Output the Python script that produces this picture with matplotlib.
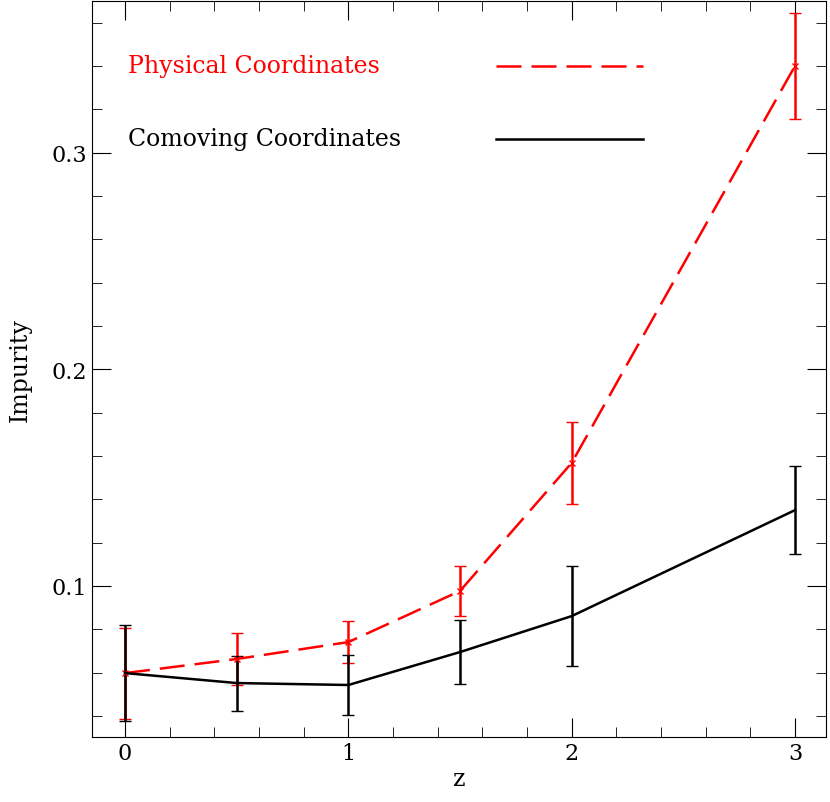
import matplotlib
matplotlib.use("Agg")
import matplotlib.pyplot as plt
from matplotlib.ticker import MultipleLocator

z = [0, 0.5, 1, 1.5, 2, 3]
phys = [0.0598, 0.0663, 0.0741, 0.0977, 0.1568, 0.340]
phys_err = [0.021, 0.012, 0.0097, 0.0115, 0.019, 0.0245]
como = [0.0598, 0.0552, 0.0543, 0.0695, 0.0861, 0.135]
como_err = [0.022, 0.0127, 0.014, 0.0148, 0.023, 0.0203]

plt.rcParams['font.family'] = ['DejaVu Serif']
fig = plt.figure(figsize=(8.3, 8.03), dpi=100)
ax = fig.add_axes([92/830, 65/803, 734/830, 736/803])
dash = (0, (10, 4))
ax.errorbar(z, phys, yerr=phys_err, color='red', ls=dash, lw=1.8,
            capsize=4, elinewidth=1.8, marker='x', ms=5)
ax.errorbar(z, como, yerr=como_err, color='black', ls='-', lw=1.8,
            capsize=4, elinewidth=1.8)
ax.set_xlim(-0.148, 3.139)
ax.set_ylim(0.0303, 0.370)
ax.xaxis.set_major_locator(MultipleLocator(1))
ax.xaxis.set_minor_locator(MultipleLocator(0.2))
ax.yaxis.set_major_locator(MultipleLocator(0.1))
ax.yaxis.set_minor_locator(MultipleLocator(0.02))
ax.tick_params(which='both', direction='in', top=True, right=True, labelsize=16)
ax.tick_params(which='major', length=14)
ax.tick_params(which='minor', length=7)
ax.set_xlabel('z', fontsize=17, labelpad=2)
ax.set_ylabel('Impurity', fontsize=17, labelpad=14)
ax.text(0.012, 0.340, 'Physical Coordinates', color='red', fontsize=17, va='center')
ax.plot([1.66, 2.32], [0.340, 0.340], color='red', ls=dash, lw=1.8)
ax.text(0.012, 0.3065, 'Comoving Coordinates', color='black', fontsize=17, va='center')
ax.plot([1.66, 2.32], [0.3065, 0.3065], color='black', lw=1.8)
fig.savefig('out.png', dpi=100)
